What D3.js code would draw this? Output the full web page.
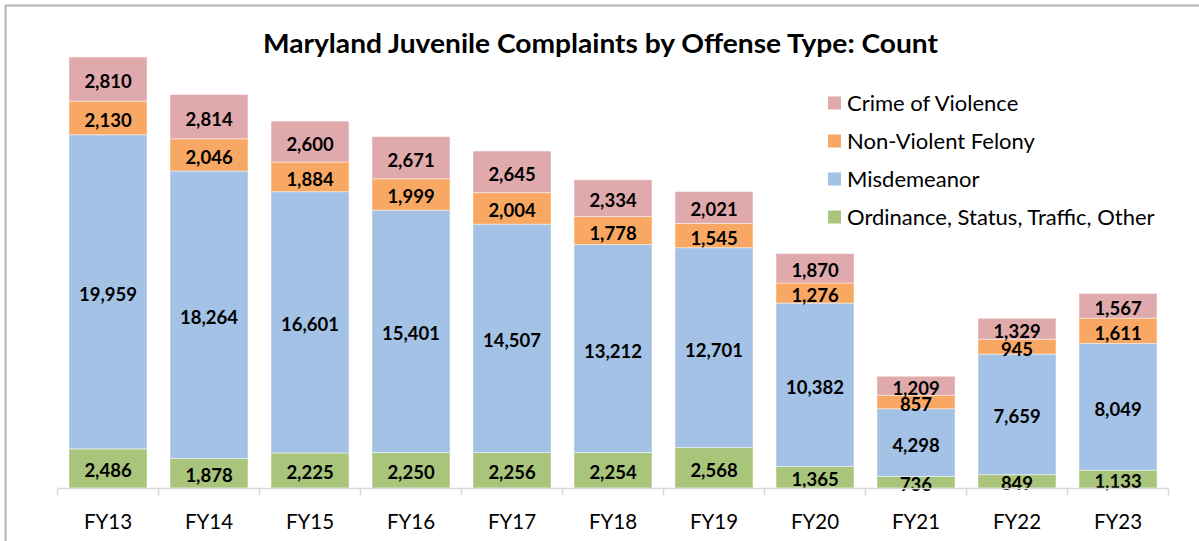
<!DOCTYPE html>
<html>
<head>
<meta charset="utf-8">
<script src="https://cdn.jsdelivr.net/npm/d3@7"></script>
<style>
html,body{margin:0;padding:0;background:#fff;}
svg{display:block;}
</style>
</head>
<body>
<svg id="chart" width="1199" height="541"></svg>
<script>
const categories = ["FY13","FY14","FY15","FY16","FY17","FY18","FY19","FY20","FY21","FY22","FY23"];
const seriesNames = ["Ordinance, Status, Traffic, Other","Misdemeanor","Non-Violent Felony","Crime of Violence"];
const ordinance = [2486,1878,2225,2250,2256,2254,2568,1365,736,849,1133];
const misdemeanor = [19959,18264,16601,15401,14507,13212,12701,10382,4298,7659,8049];
const nonViolentFelony = [2130,2046,1884,1999,2004,1778,1545,1276,857,945,1611];
const crimeOfViolence = [2810,2814,2600,2671,2645,2334,2021,1870,1209,1329,1567];
const colors = ["#A9C47B","#A3C2E6","#F8A862","#E0A9AB"];
const legendOrder = ["Crime of Violence","Non-Violent Felony","Misdemeanor","Ordinance, Status, Traffic, Other"];

const table = categories.map((c,i)=>({cat:c,
  "Ordinance, Status, Traffic, Other":ordinance[i],
  "Misdemeanor":misdemeanor[i],
  "Non-Violent Felony":nonViolentFelony[i],
  "Crime of Violence":crimeOfViolence[i]}));

const svg = d3.select("#chart");
const font = "Lato, 'Open Sans', sans-serif";

// frame
svg.append("path").attr("d","M5.5,541 V5.5 H1199").attr("fill","none").attr("stroke","#b3b3b3").attr("stroke-width",2);

const x = d3.scaleBand().domain(categories).range([57.5,1168.5]).paddingInner(0.228).paddingOuter(0.114);
const maxTotal = d3.max(table, d=>seriesNames.reduce((s,k)=>s+d[k],0));
const y = d3.scaleLinear().domain([0,maxTotal]).range([488,57]);

const stack = d3.stack().keys(seriesNames)(table);

const g = svg.append("g");
stack.forEach((layer,li)=>{
  g.selectAll(null).data(layer).enter().append("rect")
    .attr("x",d=>x(d.data.cat))
    .attr("width",x.bandwidth())
    .attr("y",d=>y(d[1]))
    .attr("height",d=>y(d[0])-y(d[1]))
    .attr("fill",colors[li])
    .attr("stroke","rgba(255,255,255,0.45)")
    .attr("stroke-width",1);
});
stack.forEach((layer,li)=>{
  g.selectAll(null).data(layer).enter().append("text")
    .attr("x",d=>x(d.data.cat)+x.bandwidth()/2)
    .attr("y",d=>(y(d[0])+y(d[1]))/2+2)
    .attr("text-anchor","middle")
    .attr("dominant-baseline","central")
    .attr("font-family",font).attr("font-weight","bold").attr("font-size",18.5)
    .attr("fill","#000")
    .text(d=>d3.format(",")(d[1]-d[0]));
});

// axis
const ax = svg.append("g").attr("transform","translate(0,488.5)");
ax.append("line").attr("x1",57.5).attr("x2",1168.5).attr("stroke","#d9d9d9").attr("stroke-width",1.5);
const bounds = categories.map(c=>x(c)-x.step()*x.paddingInner()/2).concat([1168.5]);
ax.selectAll(null).data(bounds).enter().append("line")
  .attr("x1",d=>d).attr("x2",d=>d).attr("y1",0).attr("y2",7)
  .attr("stroke","#d9d9d9").attr("stroke-width",1.5);
ax.selectAll(null).data(categories).enter().append("text")
  .attr("x",d=>x(d)+x.bandwidth()/2).attr("y",40)
  .attr("text-anchor","middle")
  .attr("font-family",font).attr("font-size",20.5).attr("fill","#000")
  .text(d=>d);

// title
svg.append("text").attr("x",600.5).attr("y",53)
  .attr("text-anchor","middle")
  .attr("font-family",font).attr("font-weight","bold").attr("font-size",26)
  .attr("textLength",675).attr("lengthAdjust","spacingAndGlyphs")
  .attr("fill","#000")
  .text("Maryland Juvenile Complaints by Offense Type: Count");

// legend
const lg = svg.append("g");
legendOrder.forEach((name,i)=>{
  const cy = 103 + i*38;
  lg.append("rect").attr("x",828).attr("y",cy-6.5).attr("width",13).attr("height",13)
    .attr("fill",colors[seriesNames.indexOf(name)]);
  lg.append("text").attr("x",847).attr("y",cy+7.5)
    .attr("font-family",font).attr("font-size",22).attr("fill","#000")
    .text(name);
});
</script>
</body>
</html>
